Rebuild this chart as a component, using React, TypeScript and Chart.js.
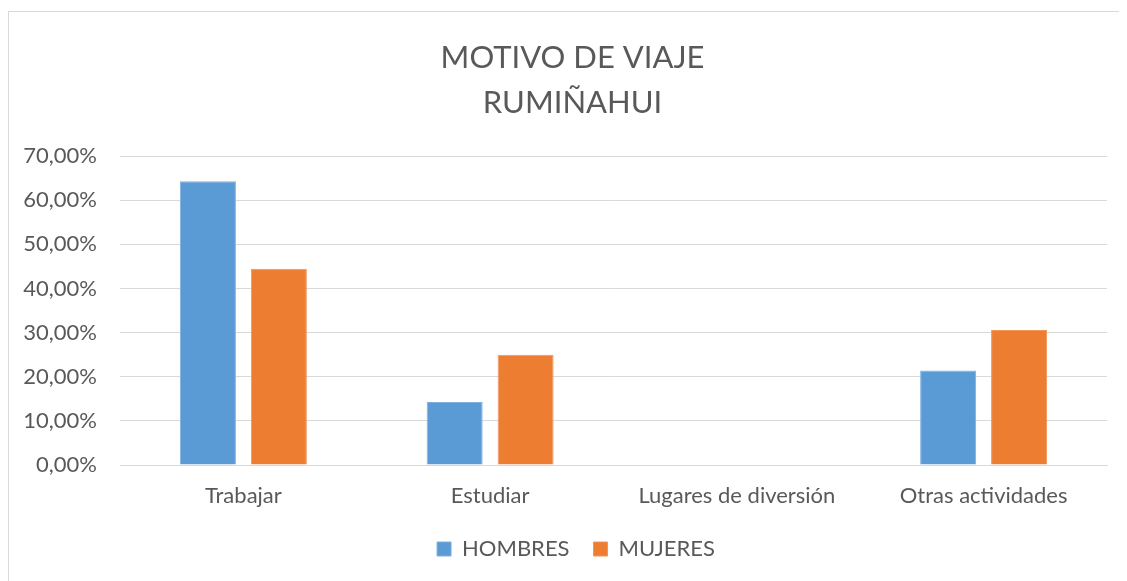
import React, { useEffect, useRef } from "react";
import { Chart, registerables } from "chart.js";

Chart.register(...registerables);

const categories = ["Trabajar", "Estudiar", "Lugares de diversión", "Otras actividades"];
const hombres = [64.29, 14.29, 0, 21.43];
const mujeres = [44.44, 25.0, 0, 30.56];
const seriesNames = ["HOMBRES", "MUJERES"];
const titleLines = ["MOTIVO DE VIAJE", "RUMIÑAHUI"];
const yMax = 70;
const yStep = 10;

const FONT = "Lato, 'Open Sans', sans-serif";
const TEXT = "#595959";
const GRID = "#D9D9D9";

// Centre title and legend on the whole frame rather than on the padded layout.
const centerShift = {
  id: "centerShift",
  afterLayout(chart: any) {
    const t = chart.titleBlock;
    if (t) {
      t.left += 14.5;
      t.right += 14.5;
    }
    const l = chart.legend;
    if (l) {
      l.left += 18;
      l.right += 18;
    }
  },
};

export default function App() {
  const ref = useRef<HTMLCanvasElement | null>(null);

  useEffect(() => {
    if (!ref.current) return;
    const chart = new Chart(ref.current, {
      type: "bar",
      data: {
        labels: categories,
        datasets: [
          {
            label: seriesNames[0],
            data: hombres,
            backgroundColor: "#5B9BD5",
            borderColor: "#7FB0DE",
            borderWidth: 1,
            categoryPercentage: 0.575,
            barPercentage: 0.79,
          },
          {
            label: seriesNames[1],
            data: mujeres,
            backgroundColor: "#ED7D31",
            borderColor: "#F0965A",
            borderWidth: 1,
            categoryPercentage: 0.575,
            barPercentage: 0.79,
          },
        ],
      },
      options: {
        responsive: false,
        animation: false,
        layout: { padding: { left: 0, right: 20, top: 0, bottom: 11 } },
        plugins: {
          tooltip: { enabled: false },
          title: {
            display: true,
            text: titleLines,
            color: TEXT,
            font: { family: FONT, size: 31, weight: "normal", lineHeight: 1.452 },
            padding: { top: 23, bottom: 31 },
          },
          legend: {
            position: "bottom",
            labels: {
              color: TEXT,
              font: { family: FONT, size: 22 },
              boxWidth: 14,
              boxHeight: 14,
              padding: 24,
            },
          },
        },
        scales: {
          x: {
            afterFit: (scale: any) => {
              scale.height = 49;
            },
            grid: { display: false, drawTicks: false },
            border: { display: true, color: GRID, width: 1 },
            ticks: { color: TEXT, font: { family: FONT, size: 22 }, padding: 18, maxRotation: 0 },
          },
          y: {
            min: 0,
            max: yMax,
            afterFit: (scale: any) => {
              scale.width = 111;
            },
            grid: { color: GRID, lineWidth: 1, drawTicks: false },
            border: { display: false },
            ticks: {
              stepSize: yStep,
              color: TEXT,
              font: { family: FONT, size: 22 },
              padding: 23,
              callback: (v: any) => Number(v).toFixed(2).replace(".", ",") + "%",
            },
          },
        },
      },
      plugins: [centerShift],
    });
    return () => chart.destroy();
  }, []);

  return (
    <div
      style={{
        marginTop: 3,
        width: 1119,
        height: 570,
        boxSizing: "border-box",
        borderTop: "1px solid #D9D9D9",
        borderLeft: "1px solid #D9D9D9",
      }}
    >
      <canvas ref={ref} width={1118} height={569} style={{ display: "block" }} />
    </div>
  );
}
